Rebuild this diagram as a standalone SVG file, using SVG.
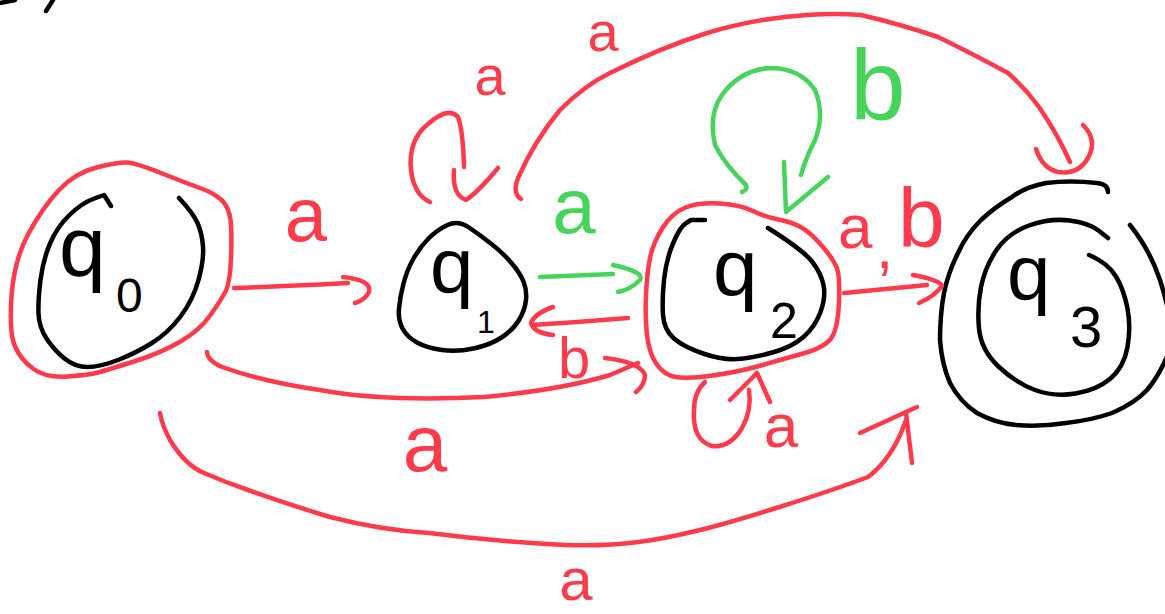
<svg xmlns="http://www.w3.org/2000/svg" width="1165" height="614" viewBox="0 0 1165 614">
<style>
.k{fill:none;stroke:#000;stroke-width:4.5;stroke-linecap:round;stroke-linejoin:round}
.r{fill:none;stroke:#ff3b4b;stroke-width:4.5;stroke-linecap:round;stroke-linejoin:round}
.g{fill:none;stroke:#46d45b;stroke-width:4.5;stroke-linecap:round;stroke-linejoin:round}
text{font-family:"Liberation Sans","DejaVu Sans",sans-serif}
.lk{fill:#000}
.lr{fill:#ff3b4b}
.lg{fill:#46d45b}
</style>
<rect width="1165" height="614" fill="#fff"/>
<g id="corner-marks">
<path class="k" d="M0 3 L15 0 M46 11 L53 0"/>
</g>
<g id="q0">
<path class="r" d="M 11.5 296.5 Q 14 260 28.5 233.5 Q 43 207 59 190 Q 75 173 96.5 167.5 Q 118 162 127 162.5 Q 136 163 161 173 Q 186 183 200 188 Q 214 193 221.5 200 Q 229 207 230.5 220 Q 232 233 231 258 Q 230 283 225.5 291.5 Q 221 300 210.5 315 Q 200 330 180.5 341.5 Q 161 353 134 361.5 Q 107 370 98 372.5 Q 89 375 67.5 376.5 Q 46 378 33.5 369 Q 21 360 15 346.5 Q 9 333 11.5 296.5 Z"/>
<path class="k" d="M 111 206 L 104 195 L 93 199 Q 82 203 69.5 215 Q 57 227 50 243.5 Q 43 260 40.5 280 Q 38 300 38.5 313.5 Q 39 327 46.5 338.5 Q 54 350 64.5 358.5 Q 75 367 87.5 367 Q 100 367 118 360 Q 136 353 152 343 Q 168 333 180.5 316.5 Q 193 300 198.5 280 Q 204 260 203 246.5 Q 202 233 197.5 223 Q 193 213 179 198"/>
<text class="lk" x="59" y="276" font-size="84">q<tspan x="116" y="312" font-size="48">0</tspan></text>
</g>
<g id="q1">
<path class="k" d="M 447.5 225 Q 437 230 428.5 238.5 Q 420 247 413.5 258.5 Q 407 270 403.5 283.5 Q 400 297 399 308.5 Q 398 320 402.5 328.5 Q 407 337 417 342.5 Q 427 348 442 350 Q 457 352 473.5 348.5 Q 490 345 501.5 337.5 Q 513 330 519 320 Q 525 310 526 300 Q 527 290 523.5 281.5 Q 520 273 511.5 263 Q 503 253 491.5 244 Q 480 235 469 227.5 Q 458 220 447.5 225 Z"/>
<text class="lk" x="430" y="293" font-size="78">q<tspan x="477" y="333" font-size="32">1</tspan></text>
</g>
<g id="q2">
<path class="r" d="M 720 203.5 Q 699 202 685.5 207.5 Q 672 213 662.5 228 Q 653 243 650 258 Q 647 273 646 295 Q 645 317 647 335 Q 649 353 656.5 364 Q 664 375 675.5 377 Q 687 379 712.5 375.5 Q 738 372 759 366 Q 780 360 803 353.5 Q 826 347 832 337 Q 838 327 839 302 Q 840 277 837 268.5 Q 834 260 822.5 246.5 Q 811 233 801.5 227.5 Q 792 222 778.5 219.5 Q 765 217 753 211 Q 741 205 720 203.5 Z"/>
<path class="k" d="M 705 220 L 691 220 L 685.5 223.5 Q 680 227 673 243.5 Q 666 260 664 280 Q 662 300 663 315 Q 664 330 674 338.5 Q 684 347 703 353.5 Q 722 360 737.5 359 Q 753 358 772.5 352.5 Q 792 347 803.5 337 Q 815 327 820.5 312 Q 826 297 823.5 285 Q 821 273 812 261.5 Q 803 250 768 228"/>
<text class="lk" x="713" y="295" font-size="80">q<tspan x="770" y="338" font-size="50">2</tspan></text>
</g>
<g id="q3">
<path class="k" d="M 1108 192 Q 1108 184 1097 183 Q 1070 180 1046 183 Q 1025 187 1012 197 Q 995 207 981 220 Q 966 235 958 253 Q 948 273 944 293 Q 940 315 940 340 Q 942 365 950 383 Q 960 402 977 413 Q 995 423 1016 425 Q 1040 427 1066 423 Q 1092 420 1112 413 Q 1135 403 1147 390 Q 1160 375 1172 345"/>
<path class="k" d="M 1130 225 Q 1150 250 1160 280 Q 1168 305 1172 330"/>
<path class="k" d="M 1108 238 L 1098.5 230.5 Q 1089 223 1069.5 220.5 Q 1050 218 1029 225.5 Q 1008 233 996.5 250 Q 985 267 981 287 Q 977 307 979 328.5 Q 981 350 998.5 366.5 Q 1016 383 1035 390 Q 1054 397 1075.5 393.5 Q 1097 390 1110.5 378.5 Q 1124 367 1127.5 347 Q 1131 327 1127.5 308.5 Q 1124 290 1116 276.5 Q 1108 263 1089 255"/>
<text class="lk" x="1007" y="300" font-size="78">q<tspan x="1070" y="347" font-size="58">3</tspan></text>
</g>
<g id="connectors">
<path class="r" d="M 234 288 C 270 287 310 285 348 283"/>
<path class="r" d="M 343 277 Q 372 280 369 292 Q 365 300 355 303"/>
<path class="r" d="M 430 202 Q 414 195 411 170 Q 408 140 428 124 Q 448 106 458 117 Q 463 130 464 167"/>
<path class="r" d="M 454 170 Q 452 195 466 200 Q 478 192 498 168"/>
<path class="r" d="M 521 199 Q 512 193 518 178 Q 535 140 560 110 Q 585 85 610 73 Q 660 48 707 33 Q 757 18 807 15 Q 834 13 861 15 Q 900 24 938 37 Q 975 55 1008 73 Q 1025 88 1039 107 Q 1058 135 1070 162"/>
<path class="r" d="M 1036 149 Q 1042 168 1058 172 Q 1078 175 1088 158 Q 1098 140 1083 125"/>
<path class="g" d="M 742 192 Q 748 190 746 185 Q 725 165 715 145 Q 708 115 722 95 Q 740 70 770 68 Q 800 68 815 90 Q 825 115 815 140 Q 805 160 801 175"/>
<path class="g" d="M 784 162 L 786 212 L 828 177"/>
<path class="g" d="M 540 277 L 613 274"/>
<path class="g" d="M 613 265 Q 645 272 640 280 Q 630 290 618 292"/>
<path class="r" d="M 628 318 Q 580 322 532 325"/>
<path class="r" d="M 553 307 Q 535 313 531 323 Q 534 333 553 335"/>
<path class="r" d="M 207 352 Q 208 362 225 368 Q 265 382 320 390 Q 385 402 484 397 Q 560 390 610 375 L 638 363"/>
<path class="r" d="M 605 358 Q 640 362 645 375 Q 645 385 636 392"/>
<path class="r" d="M 844 293 Q 885 289 927 285"/>
<path class="r" d="M 913 275 Q 940 280 942 286 Q 935 296 919 303"/>
<path class="r" d="M 705 382 Q 694 392 694 410 Q 692 440 712 446 Q 730 448 742 428 Q 752 410 749 390"/>
<path class="r" d="M 730 400 L 757 373 L 770 402"/>
<path class="r" d="M 160 413 Q 162 425 170 440 Q 185 465 204 473 Q 225 482 248 490 Q 290 505 330 517 Q 380 530 429 533 Q 500 542 566 545 C 620 547 660 540 700 530 S 820 495 868 477 Q 893 458 906 420"/>
<path class="r" d="M 860 433 L 917 407 M 906 413 L 912 463"/>
</g>
<g id="labels">
<text class="lr" x="306" y="241" font-size="76" text-anchor="middle">a</text>
<text class="lr" x="490" y="95" font-size="56" text-anchor="middle">a</text>
<text class="lr" x="603" y="51" font-size="56" text-anchor="middle">a</text>
<text class="lg" x="850" y="120" font-size="100">b</text>
<text class="lg" x="574" y="233" font-size="78" text-anchor="middle">a</text>
<text class="lr" x="558" y="378" font-size="58">b</text>
<text class="lr" x="425" y="471" font-size="80" text-anchor="middle">a</text>
<text class="lr" font-size="62"><tspan x="838" y="248">a</tspan><tspan x="876" y="268">,</tspan><tspan x="898" y="247" font-size="84">b</tspan></text>
<text class="lr" x="781" y="447" font-size="62" text-anchor="middle">a</text>
<text class="lr" x="576" y="600" font-size="60" text-anchor="middle">a</text>
</g>
</svg>
